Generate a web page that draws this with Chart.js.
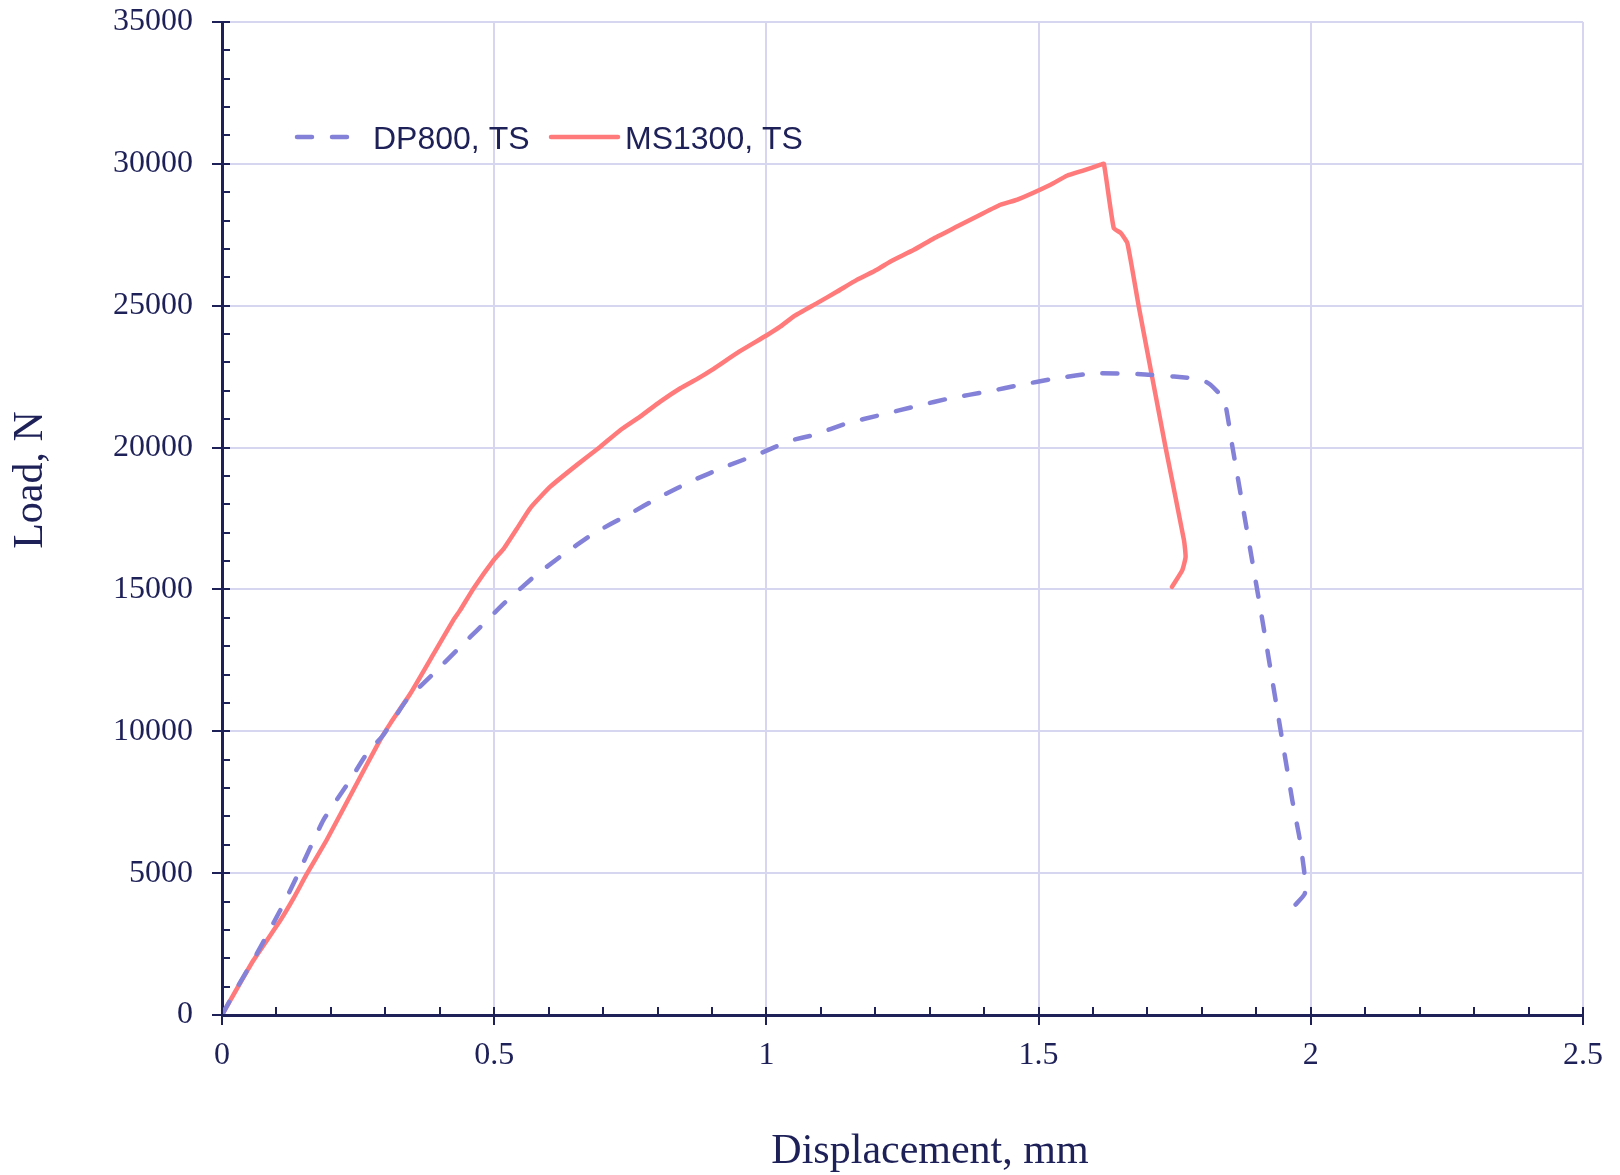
<!DOCTYPE html>
<html>
<head>
<meta charset="utf-8">
<script src="https://cdn.jsdelivr.net/npm/chart.js@4.4.1/dist/chart.umd.min.js"></script>
<style>
  html, body { margin: 0; padding: 0; background: #fff; }
</style>
</head>
<body>
<canvas id="chart" width="1620" height="1175"></canvas>
<script>
// values (displacement in mm, load in N)
const dp800X = [0, 0.030, 0.064, 0.107, 0.137, 0.186, 0.235, 0.266, 0.296, 0.339, 0.389, 0.444, 0.468,
  0.518, 0.573, 0.621, 0.683, 0.745, 0.805, 0.867, 0.922, 0.989, 1.044, 1.087, 1.148, 1.210, 1.277,
  1.338, 1.406, 1.467, 1.534, 1.602, 1.688, 1.749, 1.798, 1.816, 1.841, 1.856, 1.890, 1.911, 1.966,
  1.979, 1.988, 1.989, 1.969];
const dp800Y = [0, 1040, 2160, 3690, 4860, 6860, 8270, 9215, 9860, 11100, 12040, 13100, 13550,
  14506, 15446, 16152, 16976, 17623, 18269, 18857, 19305, 19800, 20244, 20445, 20856, 21151, 21468,
  21740, 21973, 22209, 22445, 22621, 22586, 22502, 22410, 22208, 21680, 20032, 16271, 13918, 7568,
  6273, 5038, 4276, 3828];

const ms1300X = [0, 0.015, 0.0575, 0.107, 0.131, 0.156, 0.192, 0.241, 0.290, 0.309, 0.346, 0.389, 0.425,
  0.4375, 0.462, 0.499, 0.518, 0.542, 0.566, 0.603, 0.652, 0.695, 0.732, 0.768, 0.805, 0.842, 0.873,
  0.900, 0.950, 1.000, 1.026, 1.050, 1.093, 1.130, 1.166, 1.203, 1.228, 1.271, 1.308, 1.351, 1.393,
  1.430, 1.461, 1.522, 1.552, 1.583, 1.614, 1.620, 1.638, 1.651, 1.663, 1.684, 1.733, 1.767, 1.770,
  1.764, 1.745];
const ms1300Y = [0, 510, 1920, 3330, 4100, 4980, 6160, 7920, 9680, 10270, 11330, 12740, 13920,
  14270, 15035, 16035, 16450, 17150, 17860, 18620, 19390, 20030, 20620, 21090, 21620, 22090, 22420,
  22740, 23380, 23950, 24270, 24620, 25090, 25500, 25910, 26270, 26560, 26970, 27380, 27800, 28210,
  28560, 28740, 29265, 29580, 29770, 29970, 30000, 27740, 27560, 27210, 24970, 20030, 16740, 16150,
  15680, 15090];

const seriesNames = ['DP800, TS', 'MS1300, TS'];
const xTicks = [0, 0.5, 1, 1.5, 2, 2.5];
const xTickLabels = ['0', '0.5', '1', '1.5', '2', '2.5'];
const yTicks = [0, 5000, 10000, 15000, 20000, 25000, 30000, 35000];
const yTickLabels = ['0', '5000', '10000', '15000', '20000', '25000', '30000', '35000'];

const navy = '#1e2058';
const gridColor = '#d6d6f0';
const blue = '#8482d8';
const red = '#ff7b7b';
const serif = '"Liberation Serif", "Times New Roman", serif';
const lineW = 4.5;
const dash = [15, 20];

function pairs(xs, ys) {
  return xs.map((x, i) => ({ x: x, y: ys[i] }));
}

// minor and major tick marks, crossing the axis like the original
const tickMarks = {
  id: 'tickMarks',
  afterDraw(chart) {
    const { ctx, chartArea: a, scales: { x, y } } = chart;
    ctx.save();
    ctx.strokeStyle = navy;
    ctx.lineWidth = 2;
    ctx.beginPath();
    for (let v = 0; v <= 35000; v += 1000) {
      const py = Math.round(y.getPixelForValue(v));
      const major = v % 5000 === 0;
      ctx.moveTo(a.left - (major ? 10 : 0), py);
      ctx.lineTo(a.left + 8, py);
    }
    for (let k = 0; k <= 25; k++) {
      const px = Math.round(x.getPixelForValue(k / 10));
      const major = k % 5 === 0;
      ctx.moveTo(px, a.bottom + (major ? 10 : 0));
      ctx.lineTo(px, a.bottom - 8);
    }
    ctx.stroke();
    ctx.restore();
  }
};

// axis titles and the legend inside the plot
const labels = {
  id: 'labels',
  afterDraw(chart) {
    const { ctx } = chart;
    ctx.save();
    ctx.fillStyle = navy;
    ctx.font = '42px ' + serif;
    ctx.textAlign = 'center';
    ctx.textBaseline = 'alphabetic';
    ctx.fillText('Displacement, mm', 930, 1163);
    ctx.translate(42, 480);
    ctx.rotate(-Math.PI / 2);
    ctx.fillText('Load, N', 0, 0);
    ctx.restore();

    ctx.save();
    ctx.lineWidth = lineW;
    ctx.lineCap = 'round';
    ctx.strokeStyle = blue;
    ctx.setLineDash(dash);
    ctx.beginPath();
    ctx.moveTo(297, 137);
    ctx.lineTo(352, 137);
    ctx.stroke();
    ctx.setLineDash([]);
    ctx.strokeStyle = red;
    ctx.beginPath();
    ctx.moveTo(551, 137);
    ctx.lineTo(618, 137);
    ctx.stroke();
    ctx.fillStyle = navy;
    ctx.font = '32px "Liberation Sans", Arial, sans-serif';
    ctx.textAlign = 'left';
    ctx.textBaseline = 'alphabetic';
    ctx.fillText(seriesNames[0], 373, 149);
    ctx.fillText(seriesNames[1], 625, 149);
    ctx.restore();
  }
};

new Chart(document.getElementById('chart'), {
  type: 'scatter',
  data: {
    datasets: [
      {
        label: seriesNames[0],
        data: pairs(dp800X, dp800Y),
        showLine: true,
        borderColor: blue,
        borderWidth: lineW,
        borderDash: dash,
        borderCapStyle: 'round',
        borderJoinStyle: 'round',
        pointRadius: 0,
        tension: 0.15
      },
      {
        label: seriesNames[1],
        data: pairs(ms1300X, ms1300Y),
        showLine: true,
        borderColor: red,
        borderWidth: lineW,
        borderCapStyle: 'round',
        borderJoinStyle: 'round',
        pointRadius: 0,
        tension: 0.15
      }
    ]
  },
  options: {
    responsive: false,
    animation: false,
    layout: { padding: { top: 22, right: 37, left: 0, bottom: 0 } },
    plugins: { legend: { display: false }, tooltip: { enabled: false } },
    scales: {
      x: {
        type: 'linear',
        min: 0,
        max: 2.5,
        afterBuildTicks: s => { s.ticks = xTicks.map(v => ({ value: v })); },
        afterFit: s => { s.height = 160; s.paddingLeft = 0; s.paddingRight = 0; },
        grid: { color: gridColor, lineWidth: 2, drawTicks: false },
        border: { color: navy, width: 3 },
        ticks: {
          color: navy,
          font: { family: serif, size: 32 },
          padding: 21,
          maxRotation: 0,
          callback: (v, i) => xTickLabels[i]
        }
      },
      y: {
        type: 'linear',
        min: 0,
        max: 35000,
        afterBuildTicks: s => { s.ticks = yTicks.map(v => ({ value: v })); },
        afterFit: s => { s.width = 222; s.paddingTop = 0; s.paddingBottom = 0; },
        grid: { color: gridColor, lineWidth: 2, drawTicks: false },
        border: { color: navy, width: 3 },
        ticks: {
          color: navy,
          font: { family: serif, size: 32 },
          padding: 29,
          callback: (v, i) => yTickLabels[i]
        }
      }
    }
  },
  plugins: [tickMarks, labels]
});
</script>
</body>
</html>
